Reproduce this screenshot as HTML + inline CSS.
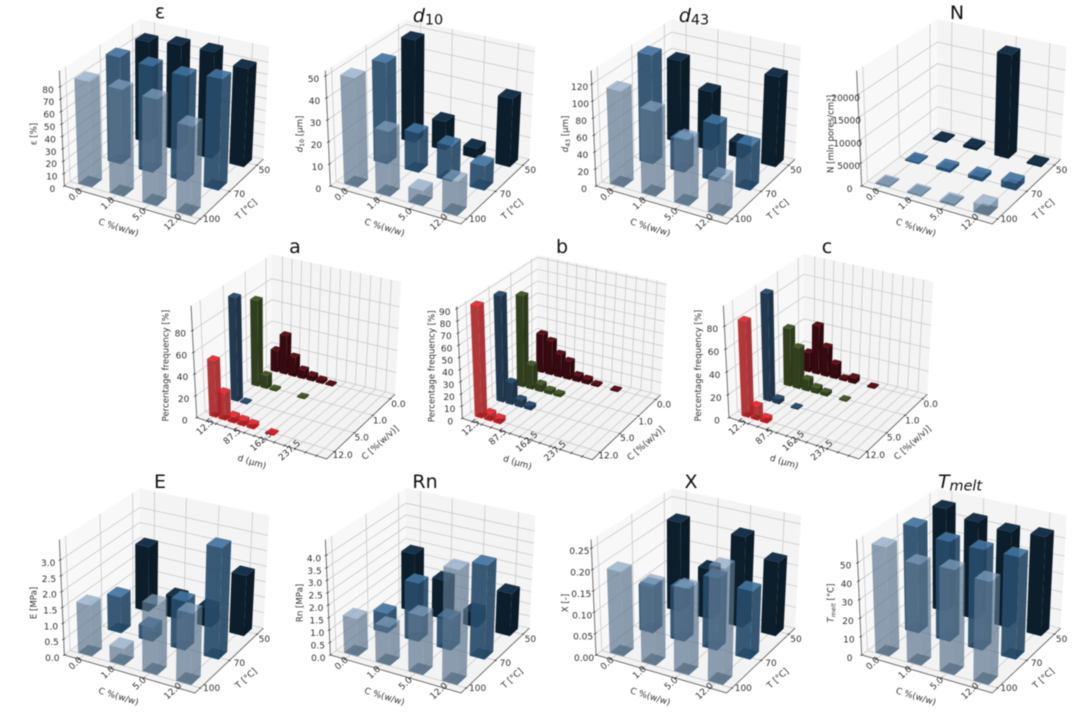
<!DOCTYPE html>
<html lang="en">
<head>
<meta charset="utf-8">
<title>3D bar chart grid</title>
<style>
html,body{margin:0;padding:0;background:#fff;width:1078px;height:713px;overflow:hidden}
svg{display:block;filter:blur(.4px)}
text{font-family:"DejaVu Sans","Liberation Sans",sans-serif;fill:#303030}
</style>
</head>
<body>
<svg id="chart" xmlns="http://www.w3.org/2000/svg" width="1078" height="713" viewBox="0 0 1078 713"></svg>
<script>
// ---- categories and tick labels ----
const concentrationLabels = ['0.0', '1.0', '5.0', '12.0'];
const temperatureLabels = ['100', '70', '50'];
const sizeLabels = ['12.5', '87.5', '162.5', '237.5'];
const histConcentrationLabels = ['12.0', '5.0', '1.0', '0.0'];

const epsilonTicks = ['0', '10', '20', '30', '40', '50', '60', '70', '80'];
const d10Ticks = ['0', '10', '20', '30', '40', '50'];
const d43Ticks = ['0', '20', '40', '60', '80', '100', '120'];
const nTicks = ['0', '5000', '10000', '15000', '20000'];
const aTicks = ['0', '20', '40', '60', '80'];
const bTicks = ['0', '10', '20', '30', '40', '50', '60', '70', '80', '90'];
const cTicks = ['0', '20', '40', '60', '80'];
const eTicks = ['0.0', '0.5', '1.0', '1.5', '2.0', '2.5', '3.0'];
const rnTicks = ['0.0', '0.5', '1.0', '1.5', '2.0', '2.5', '3.0', '3.5', '4.0'];
const xTicks = ['0.00', '0.05', '0.10', '0.15', '0.20', '0.25'];
const tmeltTicks = ['0', '10', '20', '30', '40', '50'];

// ---- series values (order: C = 0, 1, 5, 12) ----
const epsilonT100 = [85, 85, 84, 69.5];
const epsilonT70 = [88, 86.5, 85, 89];
const epsilonT50 = [84.5, 87.5, 88, 80.5];
const d10T100 = [49.5, 29, 6.8, 15];
const d10T70 = [47, 18, 16, 11];
const d10T50 = [48.5, 13.4, 4.5, 31.4];
const d43T100 = [113, 99, 76, 42];
const d43T70 = [131, 38, 67, 52];
const d43T50 = [100, 71, 18, 107.5];
const nT100 = [300, 300, 400, 2000];
const nT70 = [300, 700, 800, 1500];
const nT50 = [300, 500, 23300, 300];
const eT100 = [1.6, 0.52, 2.15, 2.17];
const eT70 = [1.16, 0.45, 1.54, 3.5];
const eT50 = [2.12, 0.71, 0.6, 1.93];
const rnT100 = [1.5, 1.5, 2.3, 4.47];
const rnT70 = [0.8, 2.35, 1.25, 3.75];
const rnT50 = [2.4, 1.6, 0.6, 1.72];
const xT100 = [0.197, 0.187, 0.197, 0.264];
const xT70 = [0.11, 0.124, 0.168, 0.158];
const xT50 = [0.217, 0.12, 0.217, 0.175];
const tmeltT100 = [59, 54, 55.6, 54];
const tmeltT70 = [58.7, 54.6, 54.5, 55];
const tmeltT50 = [58, 54.5, 53, 54.5];

// ---- histogram values (one entry per 25 um bin) ----
const aC12 = [52, 25, 6, 5, 4, 0, 1, 0, 0, 0, 0, 0];
const aC5 = [96, 1, 0, 0, 0, 0, 0, 0, 0, 0, 0, 0];
const aC1 = [80, 12, 1.5, 0, 0, 1, 0, 0, 0, 0, 0, 0];
const aC0 = [20, 36, 18, 8, 5, 3, 1, 0, 0, 0, 0, 0];
const bC12 = [92, 6, 4, 0, 0, 0, 0, 0, 0, 0, 0, 0];
const bC5 = [88, 18, 6, 3, 0, 0, 0, 0, 0, 0, 0, 0];
const bC1 = [76, 20, 6, 3, 2, 0, 0, 0, 0, 0, 0, 0];
const bC0 = [32, 28, 19, 15, 5, 4, 1.5, 0, 1, 0, 0, 0];
const cC12 = [84, 12, 4, 0, 0, 0, 0, 0, 0, 0, 0, 0];
const cC5 = [95, 4, 0, 1, 0, 0, 0, 0, 0, 0, 0, 0];
const cC1 = [51, 36, 10, 5, 3, 0, 1, 0, 0, 0, 0, 0];
const cC0 = [17, 43, 26, 13, 2, 5, 0, 1, 0, 0, 0, 0];

// ---- panel definitions ----
const matrixPanels = [
  {key:'epsilon', title:['ε'], zLabel:['ε [%]'], ticks:epsilonTicks, zMax:93, series:[epsilonT100,epsilonT70,epsilonT50], ox:140, oy:19.3, tx:160, ty:12},
  {key:'d10', title:['d','10'], zLabel:['d','10',' [μm]'], ticks:d10Ticks, zMax:52.4, series:[d10T100,d10T70,d10T50], ox:406, oy:19.3, tx:428, ty:16},
  {key:'d43', title:['d','43'], zLabel:['d','43',' [μm]'], ticks:d43Ticks, zMax:136, series:[d43T100,d43T70,d43T50], ox:671.7, oy:19.3, tx:694, ty:16},
  {key:'n', title:['N'], zLabel:['N [mln pores/cm³]'], ticks:nTicks, zMax:25300, series:[nT100,nT70,nT50], ox:937.3, oy:19.3, tx:957, ty:13},
  {key:'e', title:['E'], zLabel:['E [MPa]'], ticks:eTicks, zMax:3.64, series:[eT100,eT70,eT50], ox:140, oy:488.3, tx:160, ty:482},
  {key:'rn', title:['Rn'], zLabel:['Rn [MPa]'], ticks:rnTicks, zMax:4.63, series:[rnT100,rnT70,rnT50], ox:406, oy:488.3, tx:425, ty:482},
  {key:'x', title:['X'], zLabel:['X [-]'], ticks:xTicks, zMax:0.27, series:[xT100,xT70,xT50], ox:671.7, oy:488.3, tx:691, ty:482},
  {key:'tmelt', title:['T','melt'], zLabel:['T','melt',' [°C]'], ticks:tmeltTicks, zMax:62.5, series:[tmeltT100,tmeltT70,tmeltT50], ox:937.3, oy:488.3, tx:960, ty:482}
];
const histPanels = [
  {key:'a', title:['a'], zLabel:['Percentage frequency [%]'], ticks:aTicks, zMax:103, series:[aC12,aC5,aC1,aC0], ox:271.7, oy:254.3, tx:295, ty:247},
  {key:'b', title:['b'], zLabel:['Percentage frequency [%]'], ticks:bTicks, zMax:92, series:[bC12,bC5,bC1,bC0], ox:537.3, oy:255, tx:562, ty:247},
  {key:'c', title:['c'], zLabel:['Percentage frequency [%]'], ticks:cTicks, zMax:98, series:[cC12,cC5,cC1,cC0], ox:804, oy:254.3, tx:827, ty:247}
];

// ---- drawing helpers ----
const NS = 'http://www.w3.org/2000/svg';
const root = document.getElementById('chart');

function node(parent, tag, name, attrs) {
  const el = document.createElementNS(NS, tag);
  
  
  for (const k in attrs) el.setAttribute(k, attrs[k]);
  parent.appendChild(el);
  return el;
}

function homography(p00, p10, p11, p01) {
  const dx1 = p10[0] - p11[0], dx2 = p01[0] - p11[0], sx = p00[0] - p10[0] + p11[0] - p01[0];
  const dy1 = p10[1] - p11[1], dy2 = p01[1] - p11[1], sy = p00[1] - p10[1] + p11[1] - p01[1];
  const den = dx1 * dy2 - dx2 * dy1;
  const g = (sx * dy2 - dx2 * sy) / den;
  const h = (dx1 * sy - sx * dy1) / den;
  const a = p10[0] - p00[0] + g * p10[0], b = p01[0] - p00[0] + h * p01[0], c = p00[0];
  const d = p10[1] - p00[1] + g * p10[1], e = p01[1] - p00[1] + h * p01[1], f = p00[1];
  return function (u, v) {
    const w = g * u + h * v + 1;
    return [(a * u + b * v + c) / w, (d * u + e * v + f) / w];
  };
}

function makeProjection(p, leftFloor) {
  const floor = homography(leftFloor, [165, 614], [370, 420], [0, 327]);
  const top = homography([-242, 154], [172, 254], [388, 82], [0, 0]);
  return function (u, v, f) {
    const a = floor(u, v), b = top(u, v);
    return [p.ox + (a[0] + (b[0] - a[0]) * f) / 3, p.oy + (a[1] + (b[1] - a[1]) * f) / 3];
  };
}

function pts(list) {
  return list.map(q => q[0].toFixed(2) + ',' + q[1].toFixed(2)).join(' ');
}

function addLabelText(el, parts, size) {
  // parts: [main] or [italic, subscript, rest]
  if (parts.length === 1) { el.textContent = parts[0]; return; }
  const main = document.createElementNS(NS, 'tspan');
  main.setAttribute('font-style', 'italic');
  main.textContent = parts[0];
  el.appendChild(main);
  const sub = document.createElementNS(NS, 'tspan');
  sub.setAttribute('dy', size * 0.22);
  sub.setAttribute('font-size', size * 0.72);
  if (parts[1] === 'melt') sub.setAttribute('font-style', 'italic');
  sub.textContent = parts[1];
  el.appendChild(sub);
  if (parts[2]) {
    const rest = document.createElementNS(NS, 'tspan');
    rest.setAttribute('dy', -size * 0.22);
    rest.textContent = parts[2];
    el.appendChild(rest);
  }
}

function drawFrame(g, P, p, uTicks, vTicks) {
  node(g, 'polygon', 'left-wall', {points: pts([P(0,0,0), P(0,1,0), P(0,1,1), P(0,0,1)]), fill: '#f8f8f8'});
  node(g, 'polygon', 'back-wall', {points: pts([P(0,1,0), P(1,1,0), P(1,1,1), P(0,1,1)]), fill: '#f4f4f4'});
  node(g, 'polygon', 'floor-pane', {points: pts([P(0,0,0), P(1,0,0), P(1,1,0), P(0,1,0)]), fill: '#f3f3f3'});
  const grid = {fill: 'none', stroke: '#c4c4c4', 'stroke-width': 0.7};
  p.ticks.forEach(t => {
    const f = parseFloat(t) / p.zMax;
    node(g, 'polyline', 'z-grid-line', Object.assign({points: pts([P(0,0,f), P(0,1,f), P(1,1,f)])}, grid));
  });
  uTicks.forEach(u => {
    node(g, 'polyline', 'u-grid-line', Object.assign({points: pts([P(u,0,0), P(u,1,0), P(u,1,1)])}, grid));
  });
  vTicks.forEach(v => {
    node(g, 'polyline', 'v-grid-line', Object.assign({points: pts([P(1,v,0), P(0,v,0), P(0,v,1)])}, grid));
  });
  const axis = {fill: 'none', stroke: '#3a3a3a', 'stroke-width': 0.7};
  node(g, 'polyline', 'axis-lines', Object.assign({points: pts([P(0,0,1), P(0,0,0), P(1,0,0), P(1,1,0)])}, axis));
  p.ticks.forEach(t => {
    const q = P(0, 0, parseFloat(t) / p.zMax);
    node(g, 'line', 'z-tick', {x1: q[0] - 1.5, y1: q[1] + 0.7, x2: q[0] + 1.5, y2: q[1] - 0.7, stroke: '#3a3a3a', 'stroke-width': 0.7});
  });
  uTicks.forEach(u => {
    const q = P(u, 0, 0);
    node(g, 'line', 'u-tick', {x1: q[0] - 1.2, y1: q[1] + 1.2, x2: q[0] + 1.2, y2: q[1] - 1.2, stroke: '#3a3a3a', 'stroke-width': 0.7});
  });
  vTicks.forEach(v => {
    const q = P(1, v, 0);
    node(g, 'line', 'v-tick', {x1: q[0] - 1.2, y1: q[1] - 0.5, x2: q[0] + 1.2, y2: q[1] + 0.5, stroke: '#3a3a3a', 'stroke-width': 0.7});
  });
}

function drawBar(g, P, name, u0, u1, v0, v1, f, style) {
  const bar = node(g, 'g', name, {});
  node(bar, 'polygon', 'bar-bottom', {points: pts([P(u0,v0,0), P(u1,v0,0), P(u1,v1,0), P(u0,v1,0)]), fill: style.bottom, 'fill-opacity': style.alpha});
  node(bar, 'polygon', 'bar-left-face', {points: pts([P(u0,v0,0), P(u1,v0,0), P(u1,v0,f), P(u0,v0,f)]), fill: style.left, 'fill-opacity': style.alpha});
  node(bar, 'polygon', 'bar-right-face', {points: pts([P(u1,v0,0), P(u1,v1,0), P(u1,v1,f), P(u1,v0,f)]), fill: style.right, 'fill-opacity': style.alpha});
  node(bar, 'polygon', 'bar-top-face', {points: pts([P(u0,v0,f), P(u1,v0,f), P(u1,v1,f), P(u0,v1,f)]), fill: style.top, 'fill-opacity': style.alpha});
}

function tickText(g, name, x, y, str, rot, size) {
  const t = node(g, 'text', name, {x: x, y: y, 'font-size': size, 'text-anchor': 'middle', 'dominant-baseline': 'central'});
  if (rot) t.setAttribute('transform', 'rotate(' + rot + ' ' + x + ' ' + y + ')');
  t.textContent = str;
  return t;
}

function drawTexts(g, p, P, xLabelStr, yLabelStr, xRel, vRel, xTitleRel, vTitleRel) {
  const lf = P(0,0,0);
  const title = node(g, 'text', 'panel-title', {x: p.tx, y: p.ty, 'font-size': 19, 'text-anchor': 'middle', 'dominant-baseline': 'central'});
  title.style.fill = '#111';
  addLabelText(title, p.title, 20);
  p.ticks.forEach(t => {
    const q = P(0, 0, parseFloat(t) / p.zMax);
    tickText(g, 'z-tick-label', q[0] - 12, q[1] + 4, t, 0, 9);
  });
  const zLab = node(g, 'text', 'z-axis-title', {x: lf[0] - 30, y: lf[1] - 52, 'font-size': 8.6, 'text-anchor': 'middle', 'dominant-baseline': 'central', transform: 'rotate(-90 ' + (lf[0] - 30) + ' ' + (lf[1] - 52) + ')'});
  addLabelText(zLab, p.zLabel, 8.6);
  xRel.labels.forEach((s, i) => {
    tickText(g, 'x-tick-label', lf[0] + xRel.dx(i), lf[1] + xRel.dy(i), s, -42, 9);
  });
  vRel.labels.forEach((s, i) => {
    tickText(g, 'y-tick-label', lf[0] + vRel.dx(i), lf[1] + vRel.dy(i), s, 0, 9);
  });
  tickText(g, 'x-axis-title', lf[0] + xTitleRel[0], lf[1] + xTitleRel[1], xLabelStr, 17, 8.8);
  tickText(g, 'y-axis-title', lf[0] + vTitleRel[0], lf[1] + vTitleRel[1], yLabelStr, -42, 8.8);
}

// ---- axis functions for the C / T panels ----
const uBar = i => 0.062 + 0.253 * i;
const vBar = j => 0.075 + 0.378 * j;
const barU = 0.112;
const barV = 0.127;
const matrixUTicks = [uBar(0) + barU / 2, uBar(1) + barU / 2, uBar(2) + barU / 2, uBar(3) + barU / 2];
const matrixVTicks = [0.07, 0.48, 0.9];

const matrixStyles = [
  {alpha: 0.7, left: '#5c768f', right: '#5a738c', top: '#86a4c2', bottom: '#3a4d60'},
  {alpha: 0.92, left: '#284c6b', right: '#264865', top: '#41739f', bottom: '#1a3a55'},
  {alpha: 1, left: '#0c1e2b', right: '#0b1b27', top: '#17324a', bottom: '#0a1a26'}
];

matrixPanels.forEach(p => {
  const g = node(root, 'g', 'panel-' + p.key, {});
  const P = makeProjection(p, [-227, 500]);
  drawFrame(g, P, p, matrixUTicks, matrixVTicks);
  for (let j = 2; j >= 0; j--) {
    p.series[j].forEach((val, i) => {
      drawBar(g, P, 'bar-t' + temperatureLabels[j] + '-c' + concentrationLabels[i], uBar(i), uBar(i) + barU, vBar(j), vBar(j) + barV, val / p.zMax, matrixStyles[j]);
    });
  }
  drawTexts(g, p, P, 'C %(w/w)', 'T [°C]',
    {labels: concentrationLabels, dx: i => [11.7, 44, 75.7, 109][i], dy: i => [9, 18, 29, 36.7][i]},
    {labels: temperatureLabels, dx: j => [147.3, 175, 200][j], dy: j => [34, 9, -15][j]},
    [54, 42.3], [182.3, 24]);
});

// ---- axis functions for the histogram panels ----
const uBin = i => 0.058 + 0.0765 * i;
const vSeries = j => 0.07 + 0.273 * j;
const binU = 0.06;
const binV = 0.066;
const histUTicks = [0,1,2,3,4,5,6,7,8,9,10,11].map(i => uBin(i) + binU / 2);
const histVTicks = [0,1,2,3].map(j => vSeries(j) + binV / 2);

const histStyles = [
  {alpha: 0.9, left: '#ab2225', right: '#a02023', top: '#e81c22', bottom: '#7a1214'},
  {alpha: 1, left: '#22394f', right: '#1f3448', top: '#2d5070', bottom: '#16283a'},
  {alpha: 1, left: '#313f1e', right: '#2c391b', top: '#465a2a', bottom: '#1e2812'},
  {alpha: 1, left: '#360a10', right: '#2e080d', top: '#5c111a', bottom: '#22060a'}
];

histPanels.forEach(p => {
  const g = node(root, 'g', 'panel-' + p.key, {});
  const P = makeProjection(p, [-225, 490]);
  drawFrame(g, P, p, histUTicks, histVTicks);
  for (let j = 3; j >= 0; j--) {
    p.series[j].forEach((val, i) => {
      if (val > 0) {
        drawBar(g, P, 'bar-c' + histConcentrationLabels[j] + '-bin-' + i, uBin(i), uBin(i) + binU, vSeries(j), vSeries(j) + binV, val / p.zMax, histStyles[j]);
      }
    });
  }
  drawTexts(g, p, P, 'd (μm)', 'C [%(w/v)]',
    {labels: sizeLabels, dx: i => [9, 36, 65, 93.3][i], dy: i => [9.7, 19, 24, 33.3][i]},
    {labels: histConcentrationLabels, dx: j => [146, 165, 183.3, 201.7][j], dy: j => [38.3, 20.7, 4, -12.7][j]},
    [55, 45], [184, 25.7]);
});
</script>
</body>
</html>
